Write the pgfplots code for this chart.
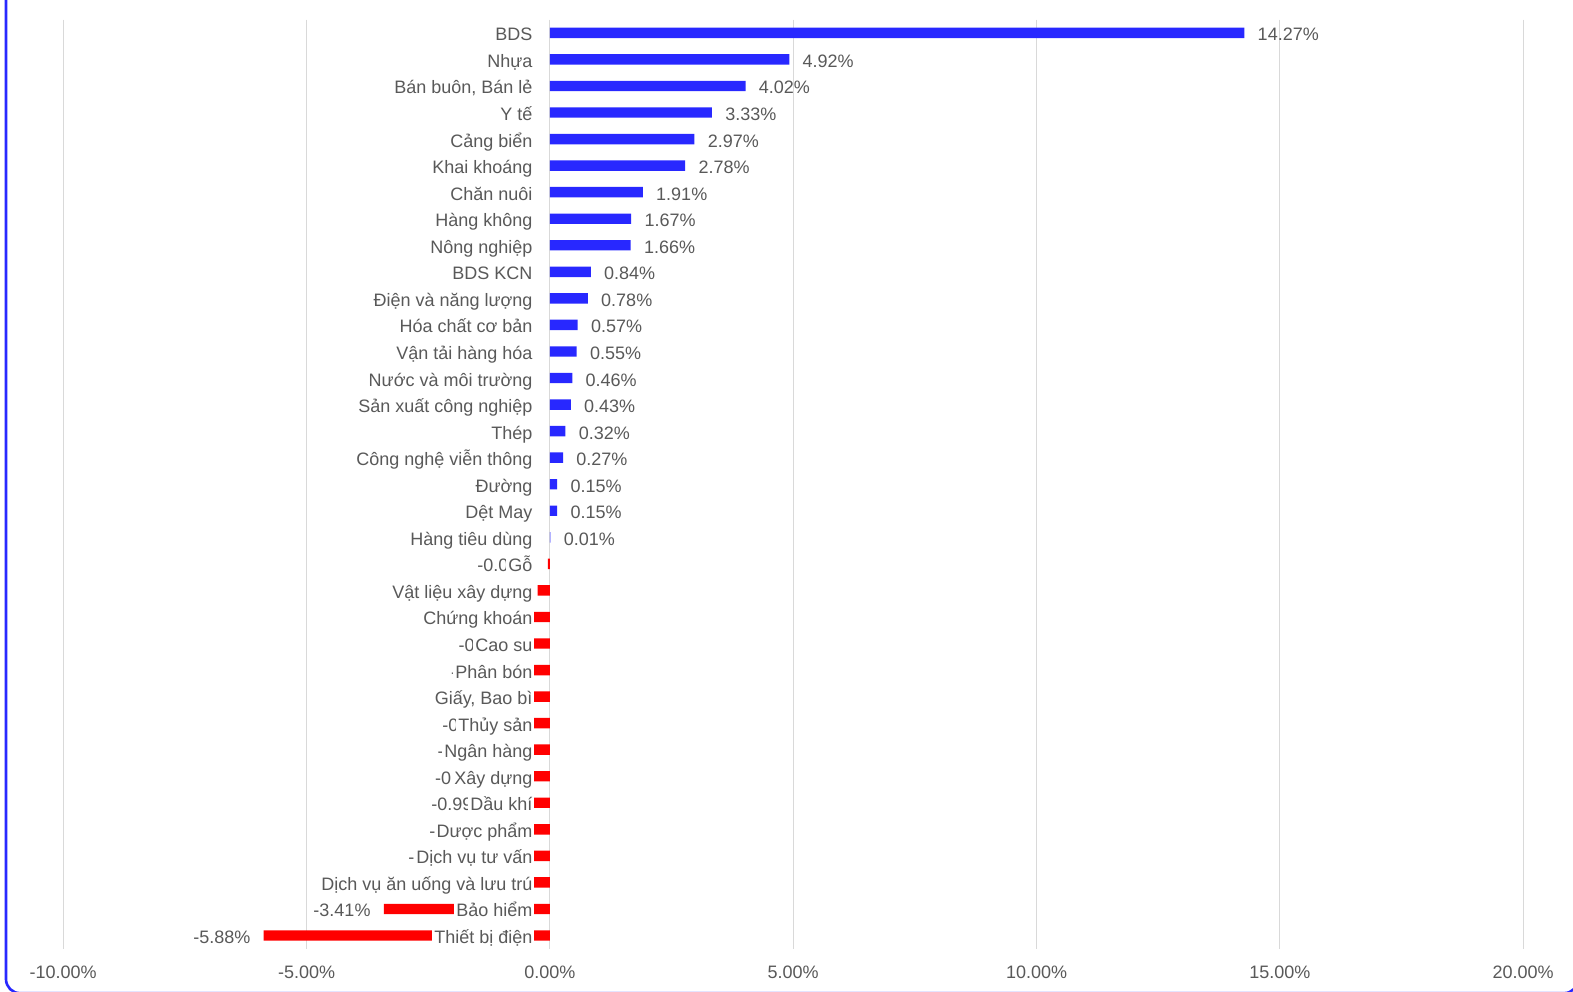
\documentclass[border=0pt]{standalone}
\usepackage{pgfplots}
\pgfplotsset{compat=1.18}
\usepackage{fontspec}
\setmainfont{Liberation Sans}
\definecolor{barblue}{RGB}{40,40,255}
\definecolor{barred}{RGB}{255,0,0}
\definecolor{txt}{RGB}{89,89,89}
\definecolor{gridc}{RGB}{217,217,217}
\begin{document}
\begin{tikzpicture}
\useasboundingbox[fill=white] (0,0) rectangle (786.5bp,496bp);
\begin{pgfinterruptboundingbox}
\begin{axis}[
  at={(31.6bp,21.6bp)}, anchor=south west,
  scale only axis, width=730bp, height=464.6bp,
  xmin=-10, xmax=20, ymin=-0.5, ymax=34.5,
  y dir=reverse,
  clip=false,
  axis line style={draw=none},
  major tick length=0pt,
  xtick={-10,-5,0,5,10,15,20},
  ytick=\empty,
  xmajorgrids, grid style={gridc, line width=0.6bp},
  /pgf/number format/assume math mode=true,
  xticklabel={\pgfmathprintnumber[fixed,fixed zerofill,precision=2]{\tick}\%},
  xticklabel style={anchor=base, yshift=-15bp, font=\fontsize{9bp}{11bp}\selectfont, text=txt},
]
% positive bars
\addplot[xbar, bar width=5.2bp, bar shift=0pt, fill=barblue, draw=none,
  point meta=x,
  nodes near coords={\pgfmathprintnumber[fixed,fixed zerofill,precision=2,assume math mode=true]{\pgfplotspointmeta}\%},
  every node near coord/.append style={anchor=base west, inner sep=0pt, xshift=6.5bp, yshift=-4bp, font=\fontsize{9bp}{11bp}\selectfont, text=txt}]
coordinates {
(14.27,0) (4.92,1) (4.02,2) (3.33,3) (2.97,4) (2.78,5) (1.91,6) (1.67,7) (1.66,8)
(0.84,9) (0.78,10) (0.57,11) (0.55,12) (0.46,13) (0.43,14) (0.32,15) (0.27,16)
(0.15,17) (0.15,18) (0.01,19)
};
% negative bars
\addplot[xbar, bar width=5.2bp, bar shift=0pt, fill=barred, draw=none,
  point meta=x,
  nodes near coords={\pgfmathprintnumber[fixed,fixed zerofill,precision=2,assume math mode=true]{\pgfplotspointmeta}\%},
  every node near coord/.append style={anchor=base east, inner sep=0pt, xshift=-6.5bp, yshift=-4bp, font=\fontsize{9bp}{11bp}\selectfont, text=txt}]
coordinates {
(-0.04,20) (-0.25,21) (-0.35,22) (-0.43,23) (-0.58,24) (-0.65,25) (-0.76,26)
(-0.86,27) (-0.91,28) (-0.99,29) (-1.03,30) (-1.46,31) (-2.20,32) (-3.41,33) (-5.88,34)
};
% category labels
\addplot[draw=none, mark=none, point meta=explicit symbolic, nodes near coords,
  every node near coord/.append style={anchor=base east, fill=white, inner sep=1bp, xshift=-7.5bp, yshift=-4bp, font=\fontsize{9bp}{11bp}\selectfont, text=txt}]
coordinates {
(0,0) [BDS] (0,1) [Nhựa] (0,2) [{Bán buôn, Bán lẻ}] (0,3) [Y tế] (0,4) [Cảng biển]
(0,5) [Khai khoáng] (0,6) [Chăn nuôi] (0,7) [Hàng không] (0,8) [Nông nghiệp]
(0,9) [BDS KCN] (0,10) [Điện và năng lượng] (0,11) [Hóa chất cơ bản]
(0,12) [Vận tải hàng hóa] (0,13) [Nước và môi trường] (0,14) [Sản xuất công nghiệp]
(0,15) [Thép] (0,16) [Công nghệ viễn thông] (0,17) [Đường] (0,18) [Dệt May]
(0,19) [Hàng tiêu dùng] (0,20) [Gỗ] (0,21) [Vật liệu xây dựng] (0,22) [Chứng khoán]
(0,23) [Cao su] (0,24) [Phân bón] (0,25) [{Giấy, Bao bì}] (0,26) [Thủy sản]
(0,27) [Ngân hàng] (0,28) [Xây dựng] (0,29) [Dầu khí] (0,30) [Dược phẩm]
(0,31) [Dịch vụ tư vấn] (0,32) [Dịch vụ ăn uống và lưu trú] (0,33) [Bảo hiểm]
(0,34) [Thiết bị điện]
};
\end{axis}
\draw[barblue, line width=1.3bp, rounded corners=7bp] (3bp,500bp) -- (3bp,-0.6bp) -- (789bp,-0.6bp) -- (789bp,500bp);
\end{pgfinterruptboundingbox}
\end{tikzpicture}
\end{document}
